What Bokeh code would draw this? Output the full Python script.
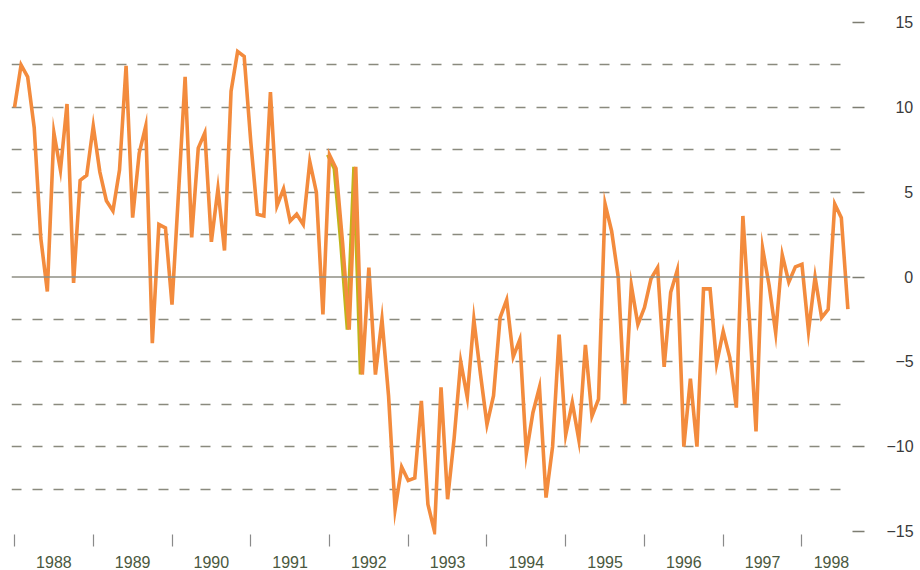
from bokeh.plotting import figure
from bokeh.models import FixedTicker, Span, ColumnDataSource
from bokeh.transform import dodge
from bokeh.embed import file_html
from bokeh.resources import INLINE

# monthly values, Jan 1988 .. Aug 1998
values = [
    10.0, 12.5, 11.8, 8.8, 2.3, -0.85, 8.5, 6.3, 10.2, -0.35, 5.7, 6.0,      # 1988
    8.9, 6.2, 4.5, 3.9, 6.3, 12.45, 3.5, 7.3, 8.9, -3.9, 3.1, 2.9,           # 1989
    -1.63, 5.0, 11.8, 2.34, 7.6, 8.5, 2.07, 5.2, 1.56, 10.96, 13.3, 13.0,    # 1990
    8.0, 3.7, 3.6, 10.9, 4.2, 5.2, 3.3, 3.7, 3.1, 6.8, 5.0, -2.2,            # 1991
    7.2, 6.4, 2.0, -3.1, 6.5, -5.75, 0.55, -5.75, -2.5, -7.0, -13.7, -11.2,  # 1992
    -12.0, -11.85, -7.3, -13.4, -15.0, -6.5, -13.1, -9.5, -5.0, -7.1, -2.5, -5.7,  # 1993
    -8.7, -7.0, -2.4, -1.35, -4.7, -3.7, -10.4, -8.0, -6.5, -13.0, -10.0, -3.4,    # 1994
    -9.3, -7.4, -9.6, -4.0, -8.2, -7.2, 4.3, 2.7, 0.0, -7.5, -0.5, -2.8,     # 1995
    -1.8, -0.1, 0.55, -5.3, -0.9, 0.4, -10.0, -6.0, -10.0, -0.7, -0.7, -5.1, # 1996
    -3.2, -4.75, -7.7, 3.6, -2.5, -9.1, 1.7, -0.5, -3.3, 1.3, -0.3, 0.6,     # 1997
    0.75, -3.2, 0.0, -2.4, -1.9, 4.3, 3.5, -1.9,                             # 1998
]
months = list(range(len(values)))

year_labels = ["1988", "1989", "1990", "1991", "1992", "1993",
               "1994", "1995", "1996", "1997", "1998"]
year_label_pos = [6, 18, 30, 42, 54, 66, 78, 90, 102, 114, 124.5]
year_bounds = [0, 12, 24, 36, 48, 60, 72, 84, 96, 108, 120]

y_ticks = [15, 10, 5, 0, -5, -10, -15]
y_tick_text = ["\u200715", "\u200710", "\u2007\u20075", "\u2007\u20070",
               "\u2007\u22125", "\u221210", "\u221215"]
grid_levels = [12.5, 10, 7.5, 5, 2.5, -2.5, -5, -7.5, -10, -12.5]

# highlighted stretch (late 1991 – early 1992)
hl_start, hl_end = 48, 54

src = ColumnDataSource(dict(x=months, y=values))
hl_src = ColumnDataSource(dict(x=months[hl_start:hl_end], y=values[hl_start:hl_end]))

p = figure(width=916, height=570,
           x_range=(-0.46, 127.4), y_range=(-15.18, 15.24),
           output_backend="svg", toolbar_location=None,
           y_axis_location="right",
           min_border_left=11, min_border_right=65,
           min_border_top=18, min_border_bottom=35)
p.outline_line_color = None
p.background_fill_color = "white"
p.border_fill_color = "white"

# grid
p.xgrid.visible = False
p.ygrid.ticker = FixedTicker(ticks=grid_levels)
p.ygrid.grid_line_color = "#8a8a7e"
p.ygrid.grid_line_width = 1.5
p.ygrid.grid_line_dash = "10 11"

p.add_layout(Span(location=0, dimension="width", line_color="#8f8f85", line_width=1.3))

# bottom axis
xa = p.xaxis[0]
xa.ticker = FixedTicker(ticks=year_label_pos, minor_ticks=year_bounds)
xa.major_label_overrides = {pos: lab for pos, lab in zip(year_label_pos, year_labels)}
xa.axis_line_color = None
xa.major_tick_line_color = None
xa.major_tick_in = 0
xa.major_tick_out = 8
xa.major_label_standoff = 9
xa.minor_tick_in = 0
xa.minor_tick_out = 12
xa.minor_tick_line_color = "#8a8a8a"
xa.minor_tick_line_width = 1.2
xa.major_label_text_font = "Liberation Sans"
xa.major_label_text_font_size = "16px"
xa.major_label_text_color = "#4a5840"

# right axis
ya = p.yaxis[0]
ya.ticker = FixedTicker(ticks=y_ticks)
ya.major_label_overrides = {t: s for t, s in zip(y_ticks, y_tick_text)}
ya.axis_line_color = None
ya.major_tick_in = -2
ya.major_tick_out = 14
ya.major_tick_line_color = "#7d7d72"
ya.major_tick_line_width = 1.3
ya.minor_tick_line_color = None
ya.major_label_standoff = 22
ya.major_label_text_font = "Liberation Sans"
ya.major_label_text_font_size = "16px"
ya.major_label_text_color = "#3a3a3a"

# lines
p.line(dodge("x", -0.3, range=p.x_range), "y", source=hl_src,
       line_color="#c0b41a", line_width=3.2)
p.line("x", "y", source=src, line_color="#f38b3d", line_width=3.6, line_join="miter")

open("out.html", "w").write(file_html(p, INLINE))
